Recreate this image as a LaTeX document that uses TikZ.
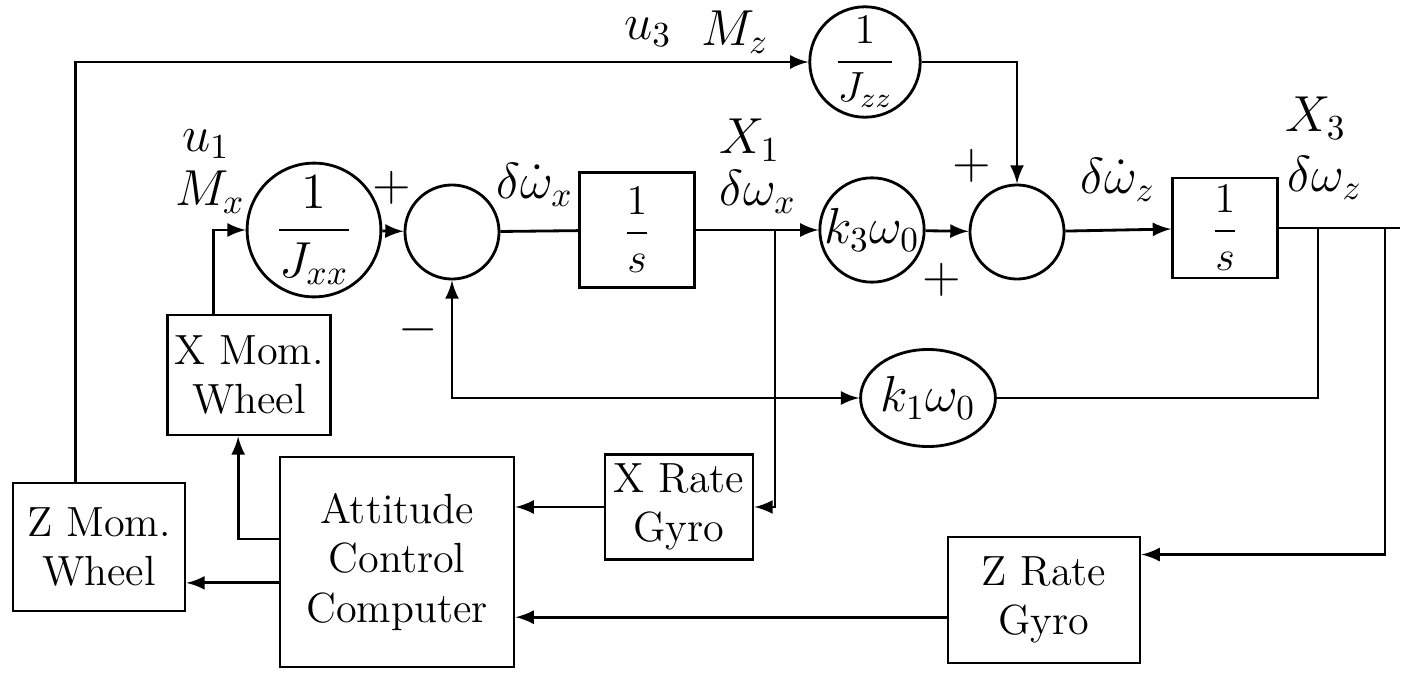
\documentclass[tikz,border=0pt]{standalone}
\usepackage{amsmath}
\usetikzlibrary{shapes.geometric}
\tikzset{
  block/.style={draw, thick, align=center, font=\large, inner sep=2pt},
  gain/.style={draw, thick, circle, inner sep=0pt, font=\Large},
  sumcirc/.style={draw, thick, circle, minimum size=0.94cm},
  lbl/.style={font=\Large, inner sep=1pt},
}
\begin{document}
\begin{tikzpicture}[x=0.01cm, y=-0.01cm, >=latex, thick]
    \useasboundingbox (0,0) rectangle (1412,673);

    % forward path
    \node[gain, minimum size=1.1cm] (jxx) at (314,230) {$\dfrac{1}{J_{xx}}$};
    \node[sumcirc] (sum1) at (452,232) {};
    \node[block, minimum width=1.15cm, minimum height=1.15cm] (int1) at (637,230) {$\dfrac{1}{s}$};
    \node[gain, minimum size=1.0cm] (k3w0) at (872,230) {$k_3\omega_0$};
    \node[sumcirc] (sum2) at (1017,232) {};
    \node[block, minimum width=1.05cm, minimum height=1.0cm] (int2) at (1225,228) {$\dfrac{1}{s}$};
    \node[gain, font=\large, minimum size=0.86cm] (jzz) at (865,62) {$\dfrac{1}{J_{zz}}$};
    \node[gain, ellipse, minimum height=0.97cm] (k1w0) at (928,398) {$k_1\omega_0$};

    % wheels, gyros, computer
    \node[block, minimum width=1.62cm, minimum height=1.2cm] (xmom) at (249,375) {X Mom.\\ Wheel};
    \node[block, minimum width=1.72cm, minimum height=1.28cm] (zmom) at (99,547) {Z Mom.\\ Wheel};
    \node[block, minimum width=2.34cm, minimum height=2.1cm] (acc) at (397,562) {Attitude\\ Control\\ Computer};
    \node[block, minimum width=1.48cm, minimum height=1.05cm] (xrg) at (679,507) {X Rate\\ Gyro};
    \node[block, minimum width=1.92cm, minimum height=1.26cm] (zrg) at (1044,600) {Z Rate\\ Gyro};

    % signal labels
    \node[lbl] (u3) at (648,32) {$u_3$};
    \node[lbl] (mz) at (735,32) {$M_z$};
    \node[lbl] (u1) at (206,144) {$u_1$};
    \node[lbl] (mx) at (210,192) {$M_x$};
    \node[lbl] (p1) at (392,188) {$+$};
    \node[lbl] (m1) at (418,330) {$-$};
    \node[lbl] (dwxd) at (535,185) {$\delta\dot\omega_x$};
    \node[lbl] (x1l) at (750,140) {$X_1$};
    \node[lbl] (dwx) at (758,192) {$\delta\omega_x$};
    \node[lbl] (p2) at (972,166) {$+$};
    \node[lbl] (p3) at (942,280) {$+$};
    \node[lbl] (dwzd) at (1118,180) {$\delta\dot\omega_z$};
    \node[lbl] (x3l) at (1316,118) {$X_3$};
    \node[lbl] (dwz) at (1325,178) {$\delta\omega_z$};

    % branch points
    \coordinate (x1) at (775,230);
    \coordinate (x3a) at (1318,228);
    \coordinate (x3b) at (1385,228);
    \coordinate (x3end) at (1400,228);

    % connectors
    \draw[->] (jxx) -- (sum1);
    \draw (sum1) -- (int1);
    \draw (int1) -- (x1);
    \draw[->] (x1) -- (k3w0);
    \draw[->] (k3w0) -- (sum2);
    \draw[->] (jzz) -| (sum2);
    \draw[->] (sum2) -- (int2);
    \draw (int2) -- (x3end);
    \draw (x3a) |- (k1w0);
    \draw[<->] (sum1) |- (k1w0);
    \draw[->] (x1) |- (xrg.east);
    \draw[->] (x3b) |- (zrg.25);

    % actuator loops
    \draw[->] (zmom.110) |- (jzz);
    \draw[->] (xmom.120) |- (jxx);
    \draw[->] (acc.169) -| (xmom.260);
    \draw[->] (acc.190) -- (acc.190 -| zmom.east);
    \draw[->] (xrg) -- (xrg -| acc.east);
    \draw[->] (zrg.190) -- (zrg.190 -| acc.east);
\end{tikzpicture}
\end{document}
